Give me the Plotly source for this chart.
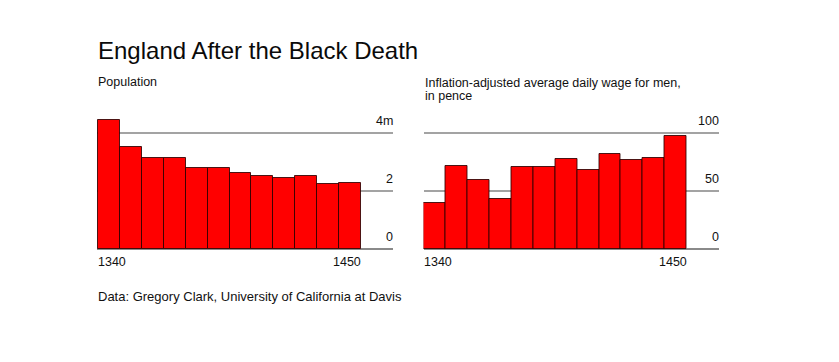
import plotly.graph_objects as go

# ---- data ----
years = [1340, 1350, 1360, 1370, 1380, 1390, 1400, 1410, 1420, 1430, 1440, 1450]
population_m = [4.46, 3.53, 3.16, 3.16, 2.80, 2.80, 2.63, 2.54, 2.47, 2.51, 2.26, 2.30]
wage_pence = [40.2, 71.8, 59.5, 43.4, 71.0, 71.0, 78.2, 68.1, 81.9, 77.0, 79.0, 97.7]
pop_ticks = [0, 2, 4]
pop_tick_text = ["0", "2", "4m"]
wage_ticks = [0, 50, 100]
wage_tick_text = ["0", "50", "100"]
x_label_text = ["1340", "1450"]

title_text = "England After the Black Death"
left_sub = "Population"
right_sub_1 = "Inflation-adjusted average daily wage for men,"
right_sub_2 = "in pence"
footer_text = "Data: Gregory Clark, University of California at Davis"

# ---- layout constants (page px; page body has an 8px margin) ----
OFF = 8
W, H = 839 - 2 * OFF, 362 - 2 * OFF
TOP, BOTTOM = 110.0, 249.5          # page coordinates of plot area
FONT = "Liberation Sans, Arial, sans-serif"
TEXT = "#111111"
RED = "#ff0000"
EDGE = "rgba(45,0,0,0.85)"
GRID = "#a3a3a3"
BASE = "#8a8a8a"


def py(p):
    return (BOTTOM - p) / (BOTTOM - TOP)


def px(p):
    return (p - OFF) / W


fig = go.Figure()
fig.add_trace(go.Bar(x=years, y=population_m, width=10, offset=0,
                     marker=dict(color=RED, line=dict(color=EDGE, width=1)),
                     xaxis="x", yaxis="y", hoverinfo="x+y"))
fig.add_trace(go.Bar(x=years, y=wage_pence, width=10, offset=0,
                     marker=dict(color=RED, line=dict(color=EDGE, width=1)),
                     xaxis="x2", yaxis="y2", hoverinfo="x+y"))

xcommon = dict(showgrid=False, zeroline=False, showticklabels=False, ticks="",
               showline=False, fixedrange=True)
ycommon = dict(showgrid=True, gridcolor=GRID, gridwidth=1.5, zeroline=True,
               zerolinecolor=BASE, zerolinewidth=2, showticklabels=False,
               ticks="", showline=False, fixedrange=True)

fig.update_layout(
    width=W, height=H,
    margin=dict(l=0, r=0, t=TOP - OFF, b=(H + OFF) - BOTTOM, pad=0),
    paper_bgcolor="white", plot_bgcolor="white",
    showlegend=False, bargap=0,
    font=dict(family=FONT, color=TEXT),
    xaxis=dict(domain=[px(97), px(393)], range=[1339.5, 1474.6], **xcommon),
    yaxis=dict(domain=[0, 1], range=[0, (BOTTOM - TOP) / 29.0], tickvals=pop_ticks, anchor="x", **ycommon),
    xaxis2=dict(domain=[px(423.5), px(719)], range=[1339.8, 1474.8], anchor="y2", **xcommon),
    yaxis2=dict(domain=[0, 1], range=[0, (BOTTOM - TOP) / 1.16], tickvals=wage_ticks, anchor="x2", **ycommon),
)

ann = []
# titles
ann.append(dict(text=title_text, x=px(97), y=py(50), xref="paper", yref="paper",
                xanchor="left", yanchor="middle", showarrow=False, xshift=-1,
                font=dict(size=24, color="#0a0a0a", family=FONT)))
ann.append(dict(text=left_sub, x=px(97), y=py(82), xref="paper", yref="paper",
                xanchor="left", yanchor="middle", showarrow=False, xshift=-1,
                font=dict(size=12.5, color=TEXT, family=FONT)))
ann.append(dict(text=right_sub_1, x=px(423.5), y=py(82.5), xref="paper", yref="paper",
                xanchor="left", yanchor="middle", showarrow=False, xshift=-1,
                font=dict(size=12.5, color=TEXT, family=FONT)))
ann.append(dict(text=right_sub_2, x=px(423.5), y=py(96), xref="paper", yref="paper",
                xanchor="left", yanchor="middle", showarrow=False, xshift=-1,
                font=dict(size=12.5, color=TEXT, family=FONT)))
ann.append(dict(text=footer_text, x=px(97), y=py(297), xref="paper", yref="paper",
                xanchor="left", yanchor="middle", showarrow=False, xshift=-1,
                font=dict(size=13, color=TEXT, family=FONT)))

# y tick labels (right aligned, above gridlines)
for v, t in zip(pop_ticks, pop_tick_text):
    ann.append(dict(text=t, x=1, xref="x domain", y=v, yref="y", xanchor="right",
                    yanchor="bottom", yshift=3, xshift=2, showarrow=False,
                    font=dict(size=12.5, color=TEXT, family=FONT)))
for v, t in zip(wage_ticks, wage_tick_text):
    ann.append(dict(text=t, x=1, xref="x2 domain", y=v, yref="y2", xanchor="right",
                    yanchor="bottom", yshift=3, xshift=2, showarrow=False,
                    font=dict(size=12.5, color=TEXT, family=FONT)))

# x labels: first and last year
for xr, yr in (("x", "y"), ("x2", "y2")):
    ann.append(dict(text=x_label_text[0], x=years[0], xref=xr, y=0, yref=yr,
                    xanchor="left", yanchor="top", yshift=-4, xshift=-2, showarrow=False,
                    font=dict(size=12.5, color=TEXT, family=FONT)))
    ann.append(dict(text=x_label_text[1], x=years[-1] + 10, xref=xr, y=0, yref=yr,
                    xanchor="right", yanchor="top", yshift=-4, xshift=2, showarrow=False,
                    font=dict(size=12.5, color=TEXT, family=FONT)))

fig.update_layout(annotations=ann)
fig.write_html("out.html")
